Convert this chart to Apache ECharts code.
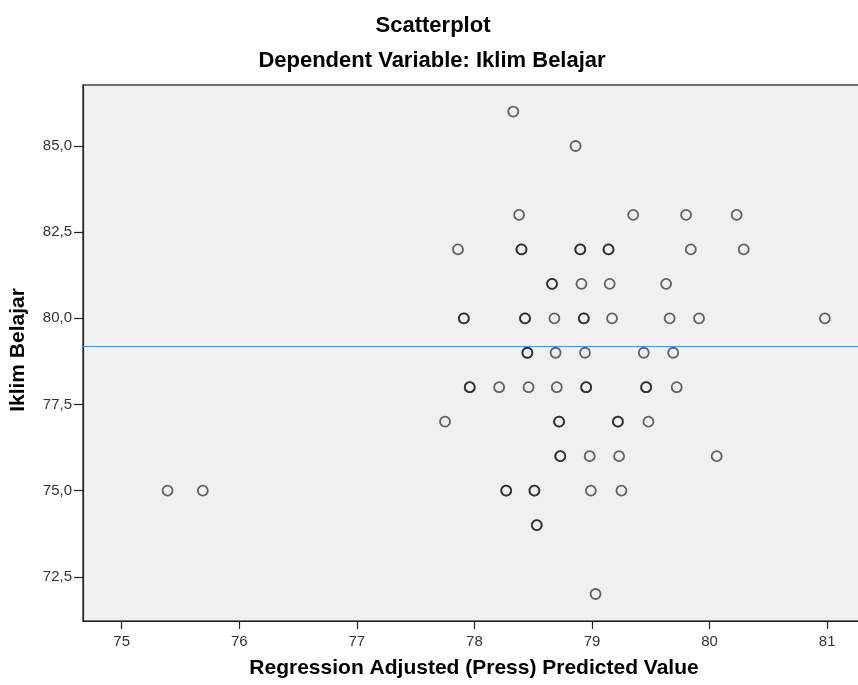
<!DOCTYPE html>
<html><head><meta charset="utf-8">
<script src="https://cdn.jsdelivr.net/npm/echarts@6/dist/echarts.min.js"></script>
<style>html,body{margin:0;padding:0;background:#fff}#c{width:858px;height:685px}</style>
</head><body><div id="c"></div>
<script>
// Regression Adjusted (Press) Predicted Value (x) and Iklim Belajar (y); repeated entries = overlapping points
const predicted = [
  78.33,
  78.86,
  78.38, 79.35, 79.80, 80.23,
  77.86, 78.40, 78.40, 78.90, 78.90, 79.14, 79.14, 79.84, 80.29,
  78.66, 78.66, 78.91, 79.15, 79.63,
  77.91, 77.91, 78.43, 78.43, 78.68, 78.93, 78.93, 79.17, 79.66, 79.91, 80.98,
  78.45, 78.45, 78.69, 78.94, 79.44, 79.69,
  77.96, 77.96, 78.21, 78.46, 78.70, 78.95, 78.95, 79.46, 79.46, 79.72,
  77.75, 78.72, 78.72, 79.22, 79.22, 79.48,
  78.73, 78.73, 78.98, 79.23, 80.06,
  75.39, 75.69, 78.27, 78.27, 78.51, 78.51, 78.99, 79.25,
  78.53, 78.53,
  79.03
];
const iklim = [
  86,
  85,
  83, 83, 83, 83,
  82, 82, 82, 82, 82, 82, 82, 82, 82,
  81, 81, 81, 81, 81,
  80, 80, 80, 80, 80, 80, 80, 80, 80, 80, 80,
  79, 79, 79, 79, 79, 79,
  78, 78, 78, 78, 78, 78, 78, 78, 78, 78,
  77, 77, 77, 77, 77, 77,
  76, 76, 76, 76, 76,
  75, 75, 75, 75, 75, 75, 75, 75,
  74, 74,
  72
];
const xTicks = [75, 76, 77, 78, 79, 80, 81];
const yTicks = [72.5, 75, 77.5, 80, 82.5, 85];
const referenceLine = 79.2;

const titleText = 'Scatterplot';
const subtitleText = 'Dependent Variable: Iklim Belajar';
const xName = 'Regression Adjusted (Press) Predicted Value';
const yName = 'Iklim Belajar';

const FONT = '"Liberation Sans", Arial, sans-serif';
const points = predicted.map((x, i) => [x, iklim[i]]);

const chart = echarts.init(document.getElementById('c'), null, {renderer: 'canvas'});
chart.setOption({
  animation: false,
  backgroundColor: '#ffffff',
  grid: {
    left: 83, top: 85, width: 803, height: 536,
    outerBoundsMode: 'none', containLabel: false,
    show: true, backgroundColor: '#f0f0f0', borderColor: '#444', borderWidth: 1.5
  },
  xAxis: {
    type: 'value', min: 74.671, max: 81.5,
    axisLine: {show: true, onZero: false, lineStyle: {color: '#222', width: 1.2}},
    axisTick: {show: true, length: 8, customValues: xTicks, lineStyle: {color: '#222', width: 1.2}},
    axisLabel: {customValues: xTicks, margin: 13, color: '#333', fontFamily: FONT, fontSize: 15,
      formatter: v => String(v)},
    splitLine: {show: false}
  },
  yAxis: {
    type: 'value', min: 71.216, max: 86.77,
    axisLine: {show: true, onZero: false, lineStyle: {color: '#222', width: 1.2}},
    axisTick: {show: true, length: 9, customValues: yTicks, lineStyle: {color: '#222', width: 1.2}},
    axisLabel: {customValues: yTicks, margin: 11, color: '#333', fontFamily: FONT, fontSize: 15,
      formatter: v => v.toFixed(1).replace('.', ',')},
    splitLine: {show: false}
  },
  graphic: [
    {type: 'text', x: 433, y: 26, style: {text: titleText, font: 'bold 22px ' + FONT, fill: '#000', textAlign: 'center', textVerticalAlign: 'middle'}},
    {type: 'text', x: 432, y: 61, style: {text: subtitleText, font: 'bold 22px ' + FONT, fill: '#000', textAlign: 'center', textVerticalAlign: 'middle'}},
    {type: 'text', x: 474, y: 668, style: {text: xName, font: 'bold 21px ' + FONT, fill: '#000', textAlign: 'center', textVerticalAlign: 'middle'}},
    {type: 'text', x: 18, y: 350, rotation: Math.PI / 2, style: {text: yName, font: 'bold 21px ' + FONT, fill: '#000', textAlign: 'center', textVerticalAlign: 'middle'}}
  ],
  series: [{
    type: 'scatter',
    data: points,
    symbol: 'circle',
    symbolSize: 10,
    itemStyle: {color: 'rgba(0,0,0,0)', borderColor: 'rgba(15,15,15,0.8)', borderWidth: 1.8},
    emphasis: {disabled: true},
    markLine: {
      silent: true, symbol: 'none', animation: false,
      label: {show: false},
      lineStyle: {color: '#4a90d9', width: 1.2, type: 'solid'},
      data: [{yAxis: referenceLine}]
    }
  }]
});
</script>
</body></html>
